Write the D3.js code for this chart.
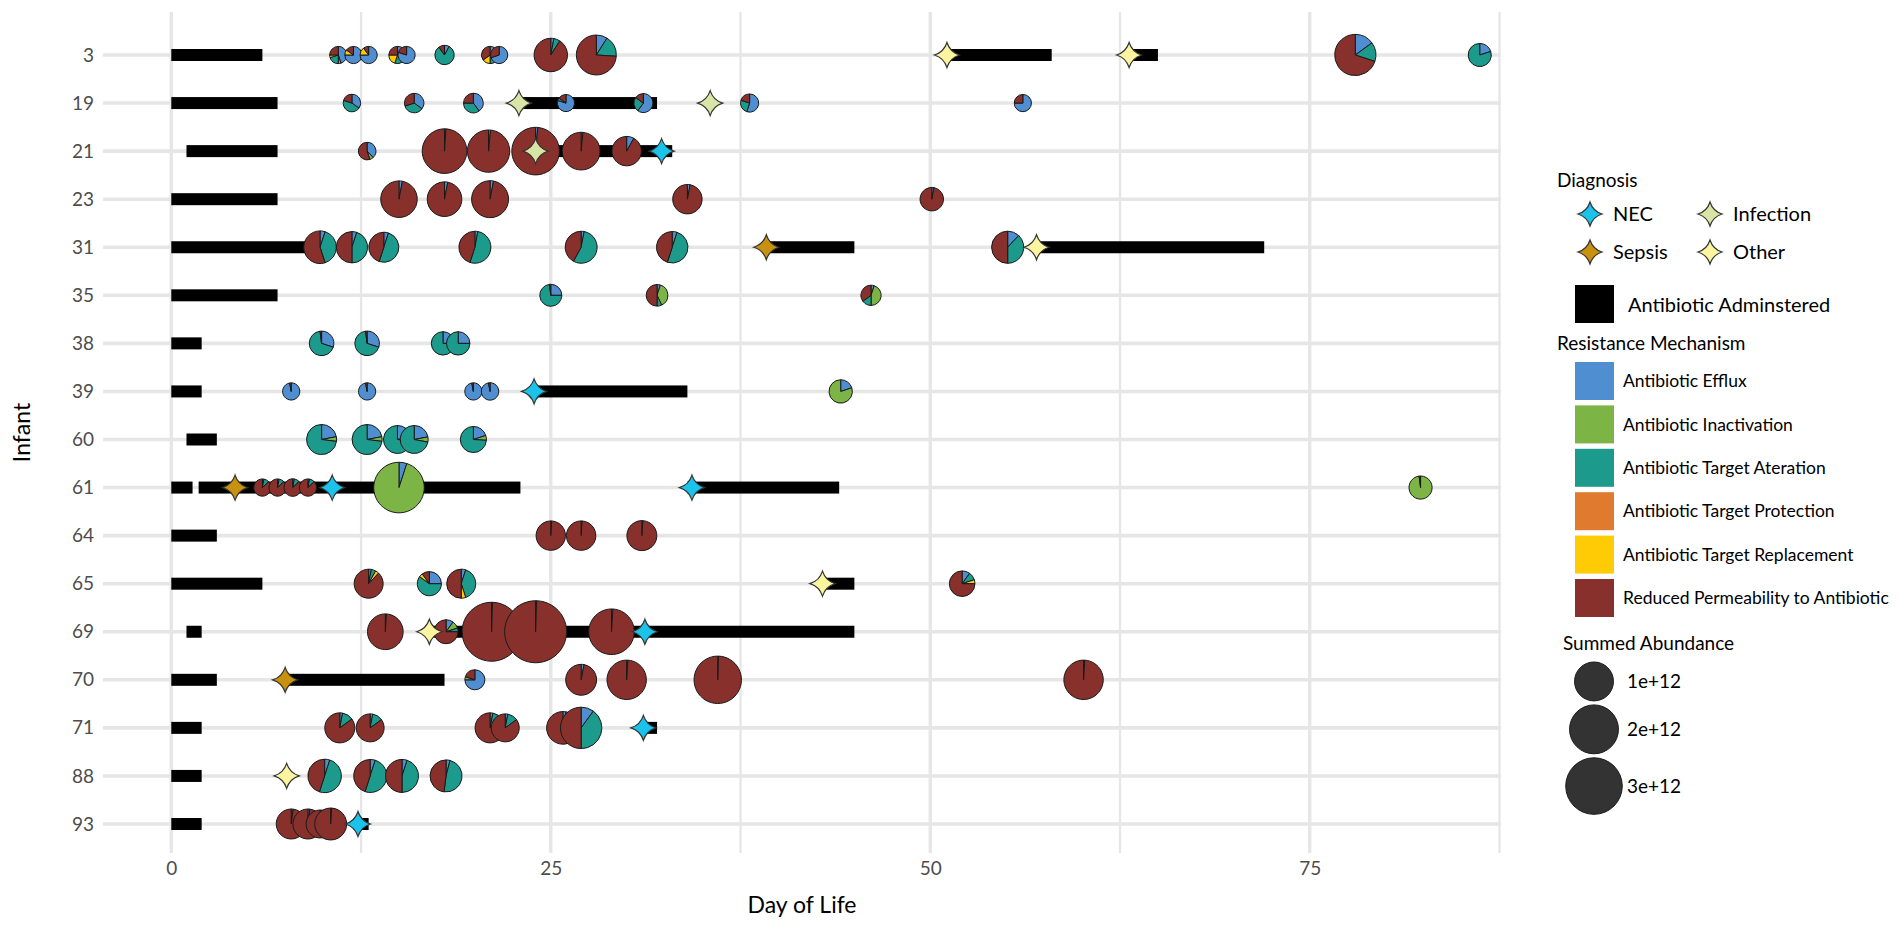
<!DOCTYPE html>
<html>
<head>
<meta charset="utf-8">
<script src="https://cdn.jsdelivr.net/npm/d3@7"></script>
<style>
  body { margin: 0; background: #fff; }
  svg text { font-family: Lato, 'Open Sans', sans-serif; }
</style>
</head>
<body>
<svg id="chart"></svg>
<script>
// infants on the y axis, top to bottom
const infants = ['3', '19', '21', '23', '31', '35', '38', '39', '60', '61', '64', '65', '69', '70', '71', '88', '93']

const mechanisms = [
  'Antibiotic Efflux',
  'Antibiotic Inactivation',
  'Antibiotic Target Ateration',
  'Antibiotic Target Protection',
  'Antibiotic Target Replacement',
  'Reduced Permeability to Antibiotic',
]
const mechanismColors = ['#4f8fd1', '#7cb546', '#1c9a8c', '#e07a2f', '#ffcb05', '#87302c']

const diagnoses = ['NEC', 'Infection', 'Sepsis', 'Other']
const diagnosisColors = ['#1bc3ea', '#d8e5a7', '#c8910f', '#fbf5a0']

const dayTicks = [0, 25, 50, 75]
const dayMinorTicks = [12.5, 37.5, 62.5, 87.5]
const abundanceBreaks = [1, 2, 3]            // x 1e12
const abundanceLabels = ['1e+12', '2e+12', '3e+12']

// [infant, first day, last day]
const antibiotics = [
  ['3', 0, 6], ['3', 51, 58], ['3', 63, 65],
  ['19', 0, 7], ['19', 23, 32],
  ['21', 1, 7], ['21', 24, 33],
  ['23', 0, 7],
  ['31', 0, 9], ['31', 39, 45], ['31', 57, 72],
  ['35', 0, 7],
  ['38', 0, 2],
  ['39', 0, 2], ['39', 24, 34],
  ['60', 1, 3],
  ['61', 0, 1.4], ['61', 1.8, 23], ['61', 34, 44],
  ['64', 0, 3],
  ['65', 0, 6], ['65', 43, 45],
  ['69', 1, 2], ['69', 17, 45],
  ['70', 0, 3], ['70', 7.5, 18],
  ['71', 0, 2], ['71', 31, 32],
  ['88', 0, 2],
  ['93', 0, 2], ['93', 12, 13],
]

// [infant, day, diagnosis]
const events = [
  ['3', 51.1, 'Other'], ['3', 63.1, 'Other'],
  ['19', 22.9, 'Infection'], ['19', 35.5, 'Infection'],
  ['21', 24, 'Infection'], ['21', 32.3, 'NEC'],
  ['31', 39.2, 'Sepsis'], ['31', 57, 'Other'],
  ['39', 23.9, 'NEC'],
  ['61', 4.2, 'Sepsis'], ['61', 10.6, 'NEC'], ['61', 34.3, 'NEC'],
  ['65', 42.9, 'Other'],
  ['69', 17, 'Other'], ['69', 31.2, 'NEC'],
  ['70', 7.5, 'Sepsis'],
  ['71', 31.1, 'NEC'],
  ['88', 7.6, 'Other'],
  ['93', 12.3, 'NEC'],
]

// [infant, day, summed abundance (x 1e12), % per mechanism in the order above]
const samples = [
  ['3', 11, 0.01, [45, 5, 20, 0, 5, 25]],
  ['3', 12, 0.01, [75, 0, 0, 0, 10, 15]],
  ['3', 13, 0.01, [75, 0, 0, 0, 15, 10]],
  ['3', 14.9, 0.01, [40, 0, 15, 0, 20, 25]],
  ['3', 15.5, 0.01, [80, 0, 0, 0, 0, 20]],
  ['3', 18, 0.036, [8, 0, 82, 0, 0, 10]],
  ['3', 21, 0.01, [30, 0, 20, 0, 15, 35]],
  ['3', 21.6, 0.01, [70, 0, 0, 0, 0, 30]],
  ['3', 25, 0.6, [3, 0, 6, 0, 0, 91]],
  ['3', 28, 1.09, [9, 0, 17, 0, 0, 74]],
  ['3', 78, 1.2, [15, 0, 15, 0, 0, 70]],
  ['3', 86.2, 0.12, [20, 0, 80, 0, 0, 0]],

  ['19', 11.9, 0.013, [35, 0, 45, 0, 0, 20]],
  ['19', 16, 0.036, [35, 0, 35, 0, 0, 30]],
  ['19', 19.9, 0.04, [40, 0, 35, 0, 0, 25]],
  ['19', 26, 0.01, [80, 0, 5, 0, 0, 15]],
  ['19', 31.1, 0.03, [60, 0, 25, 0, 0, 15]],
  ['19', 38.1, 0.02, [55, 0, 25, 0, 0, 20]],
  ['19', 56.1, 0.01, [75, 0, 0, 0, 0, 25]],

  ['21', 12.9, 0.013, [38, 7, 0, 0, 0, 55]],
  ['21', 18, 1.53, [1, 0, 0, 0, 0, 99]],
  ['21', 20.9, 1.3, [1.5, 0, 0, 0, 0, 98.5]],
  ['21', 24, 1.85, [1.5, 0, 0, 0, 0, 98.5]],
  ['21', 27, 0.9, [1.5, 0, 0, 0, 0, 98.5]],
  ['21', 30, 0.37, [8, 0, 0, 0, 0, 92]],

  ['23', 15, 0.82, [3, 0, 0, 0, 0, 97]],
  ['23', 18, 0.68, [3, 0, 0, 0, 0, 97]],
  ['23', 21, 0.85, [3, 0, 0, 0, 0, 97]],
  ['23', 34, 0.37, [3, 0, 0, 0, 0, 97]],
  ['23', 50.1, 0.13, [3, 0, 0, 0, 0, 97]],

  ['31', 9.8, 0.55, [5, 0, 40, 0, 0, 55]],
  ['31', 11.9, 0.47, [5, 0, 45, 0, 0, 50]],
  ['31', 14, 0.4, [5, 0, 50, 0, 0, 45]],
  ['31', 20, 0.51, [3, 0, 52, 0, 0, 45]],
  ['31', 27, 0.51, [3, 0, 55, 0, 0, 42]],
  ['31', 33, 0.48, [5, 0, 50, 0, 0, 45]],
  ['31', 55.1, 0.52, [12, 0, 38, 0, 0, 50]],

  ['35', 25, 0.09, [25, 0, 73, 0, 0, 2]],
  ['35', 32, 0.08, [5, 38, 7, 0, 0, 50]],
  ['35', 46.1, 0.05, [5, 45, 15, 0, 0, 35]],

  ['38', 9.9, 0.165, [30, 0, 68, 0, 0, 2]],
  ['38', 12.9, 0.165, [30, 0, 68, 0, 0, 2]],
  ['38', 17.9, 0.127, [25, 0, 75, 0, 0, 0]],
  ['38', 18.9, 0.127, [25, 0, 75, 0, 0, 0]],

  ['39', 7.9, 0.01, [97, 0, 0, 0, 0, 3]],
  ['39', 12.9, 0.01, [97, 0, 0, 0, 0, 3]],
  ['39', 19.9, 0.01, [97, 0, 0, 0, 0, 3]],
  ['39', 21, 0.012, [97, 0, 0, 0, 0, 3]],
  ['39', 44.1, 0.127, [20, 80, 0, 0, 0, 0]],

  ['60', 9.9, 0.4, [22, 5, 73, 0, 0, 0]],
  ['60', 12.9, 0.4, [22, 5, 73, 0, 0, 0]],
  ['60', 14.9, 0.3, [22, 5, 73, 0, 0, 0]],
  ['60', 16, 0.3, [22, 6, 72, 0, 0, 0]],
  ['60', 19.9, 0.22, [20, 6, 74, 0, 0, 0]],

  ['61', 6, 0.01, [3, 0, 10, 0, 0, 87]],
  ['61', 7, 0.01, [3, 0, 10, 0, 0, 87]],
  ['61', 8, 0.013, [3, 0, 10, 0, 0, 87]],
  ['61', 9, 0.01, [3, 0, 10, 0, 0, 87]],
  ['61', 15, 2.2, [5, 95, 0, 0, 0, 0]],
  ['61', 82.3, 0.12, [0, 98, 0, 0, 0, 2]],

  ['64', 25, 0.37, [1, 0, 0, 0, 0, 99]],
  ['64', 27, 0.37, [1, 0, 0, 0, 0, 99]],
  ['64', 31, 0.4, [1, 0, 0, 0, 0, 99]],

  ['65', 13, 0.35, [3, 0, 5, 0, 4, 88]],
  ['65', 17, 0.15, [25, 0, 60, 0, 5, 10]],
  ['65', 19.1, 0.35, [5, 0, 40, 0, 5, 50]],
  ['65', 52.1, 0.2, [10, 0, 10, 0, 5, 75]],

  ['69', 14.1, 0.75, [1, 0, 0, 0, 0, 99]],
  ['69', 18.1, 0.146, [10, 10, 5, 0, 0, 75]],
  ['69', 21.1, 3.36, [0.5, 0, 0, 0, 0, 99.5]],
  ['69', 24, 3.84, [0.5, 0, 0, 0, 0, 99.5]],
  ['69', 29, 1.63, [1, 0, 0, 0, 0, 99]],

  ['70', 20, 0.047, [75, 5, 0, 0, 0, 20]],
  ['70', 27, 0.45, [3, 0, 0, 0, 0, 97]],
  ['70', 30, 1.04, [1, 0, 0, 0, 0, 99]],
  ['70', 36, 1.83, [0.5, 0, 0, 0, 0, 99.5]],
  ['70', 60.1, 1.04, [1, 0, 0, 0, 0, 99]],

  ['71', 11.1, 0.4, [3, 0, 12, 0, 0, 85]],
  ['71', 13.1, 0.3, [3, 0, 12, 0, 0, 85]],
  ['71', 21, 0.4, [3, 0, 12, 0, 0, 85]],
  ['71', 22, 0.3, [3, 0, 12, 0, 0, 85]],
  ['71', 25.8, 0.55, [3, 0, 35, 0, 0, 62]],
  ['71', 27, 1.22, [10, 0, 40, 0, 0, 50]],

  ['88', 10.1, 0.6, [5, 0, 50, 0, 0, 45]],
  ['88', 13.1, 0.57, [5, 0, 50, 0, 0, 45]],
  ['88', 15.2, 0.57, [5, 0, 45, 0, 0, 50]],
  ['88', 18.1, 0.51, [4, 0, 48, 0, 0, 48]],

  ['93', 7.9, 0.4, [2, 0, 0, 0, 0, 98]],
  ['93', 9, 0.4, [2, 0, 0, 0, 0, 98]],
  ['93', 9.8, 0.3, [2, 0, 0, 0, 0, 98]],
  ['93', 10.5, 0.51, [1, 0, 0, 0, 0, 99]],
]


const WIDTH = 1902
const HEIGHT = 933
const panel = { left: 103, right: 1501, top: 12, bottom: 853 }
const GRID = '#e6e6e6'

const x = d3.scaleLinear().domain([-4.5, 87.6]).range([panel.left, panel.right])
const y = d3.scalePoint().domain(infants).range([55, 824])
const radius = d3.scaleSqrt().domain([0, 1]).range([7.4, 19.45])
const mechColor = d3.scaleOrdinal().domain(mechanisms).range(mechanismColors)
const diagColor = d3.scaleOrdinal().domain(diagnoses).range(diagnosisColors)

// four pointed star used for the diagnosis markers
const star4 = {
  draw (ctx, size) {
    const r = Math.sqrt(size) / 2
    const k = r * 0.24
    ctx.moveTo(0, -r)
    ctx.quadraticCurveTo(k, -k, r, 0)
    ctx.quadraticCurveTo(k, k, 0, r)
    ctx.quadraticCurveTo(-k, k, -r, 0)
    ctx.quadraticCurveTo(-k, -k, 0, -r)
    ctx.closePath()
  },
}
const starPath = d3.symbol().type(star4).size(25 * 25)

const pie = d3.pie().sort(null).value(d => d.value)
const arc = d3.arc().innerRadius(0)

const svg = d3.select('#chart')
  .attr('width', WIDTH)
  .attr('height', HEIGHT)
  .attr('viewBox', `0 0 ${WIDTH} ${HEIGHT}`)

// grid
const grid = svg.append('g').attr('class', 'grid')

grid.selectAll('line.minor')
  .data(dayMinorTicks)
  .join('line')
    .attr('class', 'minor')
    .attr('x1', d => x(d)).attr('x2', d => x(d))
    .attr('y1', panel.top).attr('y2', panel.bottom)
    .attr('stroke', GRID)
    .attr('stroke-width', 2.3)

grid.selectAll('line.major')
  .data(dayTicks)
  .join('line')
    .attr('class', 'major')
    .attr('x1', d => x(d)).attr('x2', d => x(d))
    .attr('y1', panel.top).attr('y2', panel.bottom)
    .attr('stroke', GRID)
    .attr('stroke-width', 3.4)

grid.selectAll('line.row')
  .data(infants)
  .join('line')
    .attr('class', 'row')
    .attr('x1', panel.left).attr('x2', panel.right)
    .attr('y1', d => y(d)).attr('y2', d => y(d))
    .attr('stroke', GRID)
    .attr('stroke-width', 3.6)

// axes
svg.append('g')
  .attr('transform', `translate(0,${panel.bottom})`)
  .call(d3.axisBottom(x).tickValues(dayTicks).tickSize(0).tickPadding(9))
  .call(g => g.select('.domain').remove())
  .call(g => g.selectAll('text')
    .attr('fill', '#4d4d4d')
    .style('font-size', '19px'))

svg.append('g')
  .attr('transform', `translate(${panel.left},0)`)
  .call(d3.axisLeft(y).tickSize(0).tickPadding(9))
  .call(g => g.select('.domain').remove())
  .call(g => g.selectAll('text')
    .attr('fill', '#4d4d4d')
    .style('font-size', '19px'))

svg.append('text')
  .attr('x', (panel.left + panel.right) / 2)
  .attr('y', 913)
  .attr('text-anchor', 'middle')
  .style('font-size', '23px')
  .text('Day of Life')

svg.append('text')
  .attr('transform', `translate(30,${(panel.top + panel.bottom) / 2}) rotate(-90)`)
  .attr('text-anchor', 'middle')
  .style('font-size', '23px')
  .text('Infant')

// antibiotic courses
svg.append('g')
  .attr('class', 'antibiotics')
  .selectAll('rect')
  .data(antibiotics)
  .join('rect')
    .attr('x', d => x(d[1]))
    .attr('y', d => y(d[0]) - 6)
    .attr('width', d => x(d[2]) - x(d[1]))
    .attr('height', 12)
    .attr('fill', '#000')

// resistome pies
svg.append('g')
  .attr('class', 'pies')
  .selectAll('g')
  .data(samples)
  .join('g')
    .attr('transform', d => `translate(${x(d[1])},${y(d[0])})`)
    .each(function (d) {
      const r = radius(d[2])
      const slices = pie(d[3]
        .map((v, i) => ({ value: v, key: mechanisms[i] }))
        .filter(s => s.value > 0))
      d3.select(this)
        .selectAll('path')
        .data(slices)
        .join('path')
          .attr('d', s => arc.outerRadius(r)(s))
          .attr('fill', s => mechColor(s.data.key))
          .attr('stroke', '#1a1a1a')
          .attr('stroke-width', 1)
          .attr('stroke-linejoin', 'round')
    })

// diagnoses
svg.append('g')
  .attr('class', 'events')
  .selectAll('path')
  .data(events)
  .join('path')
    .attr('transform', d => `translate(${x(d[1])},${y(d[0])})`)
    .attr('d', starPath)
    .attr('fill', d => diagColor(d[2]))
    .attr('stroke', '#333')
    .attr('stroke-width', 1.2)

// legend
const legend = svg.append('g').attr('class', 'legend')

legend.append('text')
  .attr('x', 1557).attr('y', 180)
  .attr('dy', '0.35em')
  .style('font-size', '19px')
  .text('Diagnosis')

legend.selectAll('g.diag')
  .data(diagnoses)
  .join('g')
    .attr('class', 'diag')
    .attr('transform', (d, i) => `translate(${1590 + (i % 2) * 120},${214 + Math.floor(i / 2) * 38})`)
    .call(g => g.append('path')
      .attr('d', d3.symbol().type(star4).size(24 * 24))
      .attr('fill', d => diagColor(d))
      .attr('stroke', '#333')
      .attr('stroke-width', 1.2))
    .call(g => g.append('text')
      .attr('x', 23)
      .attr('dy', '0.35em')
      .style('font-size', '20px')
      .text(d => d))

legend.append('rect')
  .attr('x', 1575).attr('y', 285)
  .attr('width', 39).attr('height', 38)
  .attr('fill', '#000')

legend.append('text')
  .attr('x', 1628).attr('y', 305)
  .attr('dy', '0.35em')
  .style('font-size', '20px')
  .text('Antibiotic Adminstered')

legend.append('text')
  .attr('x', 1557).attr('y', 343)
  .attr('dy', '0.35em')
  .style('font-size', '19px')
  .text('Resistance Mechanism')

legend.selectAll('g.mech')
  .data(mechanisms)
  .join('g')
    .attr('class', 'mech')
    .attr('transform', (d, i) => `translate(1575,${362 + i * 43.4})`)
    .call(g => g.append('rect')
      .attr('width', 39).attr('height', 38)
      .attr('fill', d => mechColor(d)))
    .call(g => g.append('text')
      .attr('x', 48).attr('y', 19)
      .attr('dy', '0.35em')
      .style('font-size', '17.5px')
      .text(d => d))

legend.append('text')
  .attr('x', 1563).attr('y', 643)
  .attr('dy', '0.35em')
  .style('font-size', '19px')
  .text('Summed Abundance')

let cy = 662
const sizeKeys = abundanceBreaks.map((v, i) => {
  const r = radius(v)
  cy += r
  const key = { r, cy, label: abundanceLabels[i] }
  cy += r + 4
  return key
})

legend.selectAll('g.size')
  .data(sizeKeys)
  .join('g')
    .attr('class', 'size')
    .call(g => g.append('circle')
      .attr('cx', 1594).attr('cy', d => d.cy)
      .attr('r', d => d.r)
      .attr('fill', '#333')
      .attr('stroke', '#1a1a1a'))
    .call(g => g.append('text')
      .attr('x', 1627).attr('y', d => d.cy)
      .attr('dy', '0.35em')
      .style('font-size', '19px')
      .text(d => d.label))
</script>
</body>
</html>
